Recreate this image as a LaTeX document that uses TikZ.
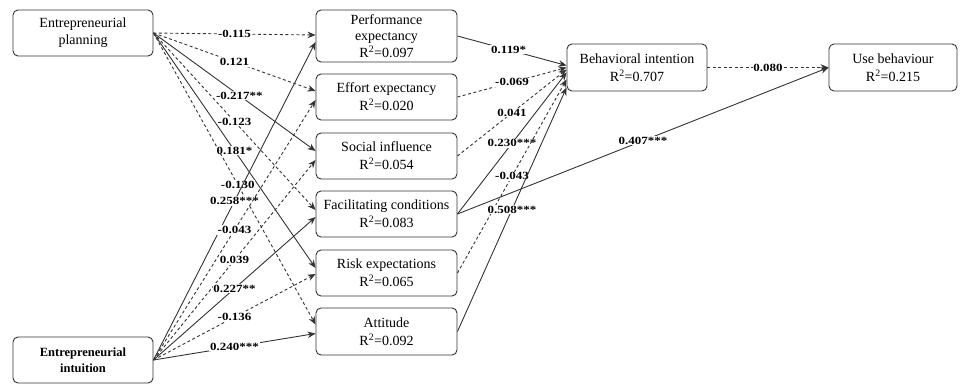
\documentclass[tikz,border=0pt]{standalone}
\usepackage{fontspec}
\setmainfont{Liberation Serif}
\newfontfamily\labfont[FakeStretch=1.18]{Liberation Serif}
\usetikzlibrary{arrows.meta}
\begin{document}
\begin{tikzpicture}[x=1pt,y=-1pt,
 box/.style={draw=black!80, line width=0.9pt, rounded corners=5pt, align=center, inner sep=1pt,
   minimum width=140pt, minimum height=46pt, font=\fontsize{14}{16}\selectfont},
 sol/.style={draw=black!80, line width=0.9pt, -{Stealth[length=8pt,width=6.5pt]}},
 das/.style={sol, dash pattern=on 3pt off 2.5pt},
 lab/.style={fill=white, inner sep=0.8pt, font=\labfont\bfseries\fontsize{11}{12}\selectfont, pos=0.5}
]
\useasboundingbox (0,0) rectangle (960,384);
% left
\node[box, font=\fontsize{14}{17}\selectfont] (ep) at (83,33) {Entrepreneurial\\planning};
\node[box, font=\bfseries\fontsize{12.5}{16}\selectfont] (ei) at (83,360) {Entrepreneurial\\intuition};
% middle
\node[box, minimum width=141pt, minimum height=52pt] (pe) at (386.5,36) {Performance\\expectancy\\[1pt]R\textsuperscript{2}=0.097};
\node[box, minimum width=141pt] (ee) at (386.5,97) {Effort expectancy\\[2pt]R\textsuperscript{2}=0.020};
\node[box, minimum width=141pt] (si) at (386.5,156) {Social influence\\[2pt]R\textsuperscript{2}=0.054};
\node[box, minimum width=141pt] (fc) at (386.5,214) {Facilitating conditions\\[2pt]R\textsuperscript{2}=0.083};
\node[box, minimum width=141pt] (re) at (386.5,273) {Risk expectations\\[2pt]R\textsuperscript{2}=0.065};
\node[box, minimum width=141pt, minimum height=47pt] (at) at (386.5,331.5) {Attitude\\[2pt]R\textsuperscript{2}=0.092};
% right
\node[box, minimum height=47pt] (bi) at (637,67.5) {Behavioral intention\\[2pt]R\textsuperscript{2}=0.707};
\node[box, minimum width=128pt, minimum height=47pt] (ub) at (893,67.5) {Use behaviour\\[2pt]R\textsuperscript{2}=0.215};
% planning edges
\draw[das] (ep.east) -- ([yshift=1pt]pe.west) node[lab]{-0.115};
\draw[das] (ep.east) -- ([yshift=6pt]ee.west) node[lab]{0.121};
\draw[sol] (ep.east) -- ([yshift=5pt]si.west) node[lab, pos=0.53]{-0.217**};
\draw[das] (ep.east) -- ([yshift=4pt]fc.west) node[lab]{-0.123};
\draw[sol] (ep.east) -- ([yshift=5pt]re.west) node[lab]{0.181*};
\draw[das] (ep.east) -- ([yshift=7pt]at.west) node[lab, pos=0.52]{-0.130};
% intuition edges
\draw[sol] (ei.east) -- ([yshift=-6pt]pe.west) node[lab]{0.258***};
\draw[das] (ei.east) -- ([yshift=-3pt]ee.west) node[lab]{-0.043};
\draw[das] (ei.east) -- ([yshift=-4pt]si.west) node[lab]{0.039};
\draw[sol] (ei.east) -- ([yshift=-3pt]fc.west) node[lab]{0.227**};
\draw[das] (ei.east) -- ([yshift=-1pt]re.west) node[lab]{-0.136};
\draw[sol] (ei.east) -- ([yshift=-2pt]at.west) node[lab]{0.240***};
% middle to BI
\draw[sol] (pe.east) -- ([yshift=2pt]bi.west) node[lab, pos=0.47]{0.119*};
\draw[das] (ee.east) -- ([yshift=0pt]bi.west) node[lab]{-0.069};
\draw[das] (si.east) -- ([yshift=-2pt]bi.west) node[lab]{0.041};
\draw[sol] (fc.east) -- ([yshift=-5pt]bi.west) node[lab]{0.230***};
\draw[das] (re.east) -- ([yshift=-12pt]bi.west) node[lab]{-0.043};
\draw[sol] (at.east) -- ([yshift=-20pt]bi.west) node[lab]{0.508***};
% to use behaviour
\draw[sol] (fc.east) -- (ub.west) node[lab]{0.407***};
\draw[das] (bi.east) -- (ub.west) node[lab]{0.080};
\end{tikzpicture}
\end{document}
